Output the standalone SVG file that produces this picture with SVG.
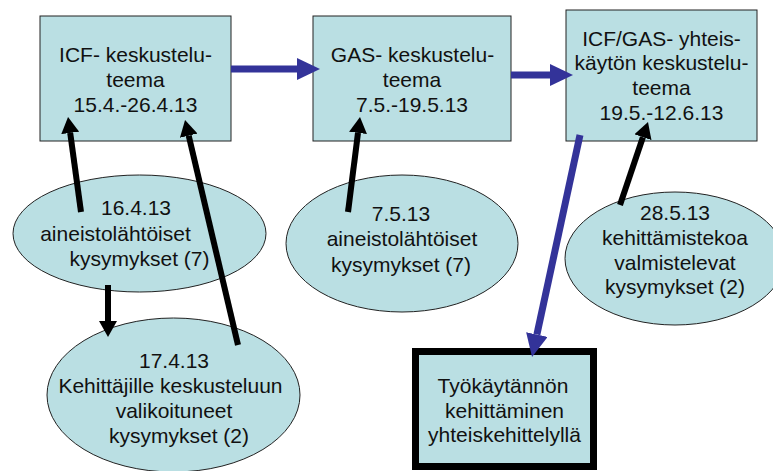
<svg xmlns="http://www.w3.org/2000/svg" width="773" height="471" viewBox="0 0 773 471">
<style>
.n{fill:#badfe3;stroke:#222;stroke-width:1}
.t{font-family:"Liberation Sans",Arial,sans-serif;font-size:21px;fill:#111;text-anchor:middle}
.bl{stroke:#000;stroke-width:6;fill:none}
.bu{stroke:#333399;stroke-width:7;fill:none}
</style>
<defs>
<marker id="bh" markerUnits="userSpaceOnUse" markerWidth="17" markerHeight="18" refX="0" refY="9" orient="auto"><path d="M0,0 L16,9 L0,18 z" fill="#000"/></marker>
<marker id="uh" markerUnits="userSpaceOnUse" markerWidth="24" markerHeight="22" refX="0" refY="11" orient="auto"><path d="M0,0 L23,11 L0,22 z" fill="#333399"/></marker>
</defs>
<rect width="773" height="471" fill="#fff"/>
<g id="box1"><rect class="n" x="40" y="16" width="191" height="125"/>
<text class="t" x="135.5" y="62">ICF- keskustelu-</text><text class="t" x="135.5" y="87">teema</text><text class="t" x="135.5" y="111.5">15.4.-26.4.13</text></g>
<g id="box2"><rect class="n" x="313" y="16" width="198" height="125"/>
<text class="t" x="412.5" y="62">GAS- keskustelu-</text><text class="t" x="412" y="87">teema</text><text class="t" x="412" y="111.5">7.5.-19.5.13</text></g>
<g id="box3"><rect class="n" x="566" y="10" width="191" height="131"/>
<text class="t" x="661.5" y="46">ICF/GAS- yhteis-</text><text class="t" x="661.5" y="70">käytön keskustelu-</text><text class="t" x="661.5" y="95">teema</text><text class="t" x="661.5" y="120">19.5.-12.6.13</text></g>
<g id="ell1"><ellipse class="n" cx="139.5" cy="233.5" rx="126.5" ry="58.5"/>
<text class="t" x="136" y="215">16.4.13</text><text class="t" x="115.5" y="241">aineistolähtöiset</text><text class="t" x="139.5" y="266">kysymykset (7)</text></g>
<g id="ell2"><ellipse class="n" cx="173.5" cy="395" rx="126.5" ry="77"/>
<text class="t" x="174" y="368">17.4.13</text><text class="t" x="170.5" y="393">Kehittäjille keskusteluun</text><text class="t" x="174" y="418">valikoituneet</text><text class="t" x="179" y="443">kysymykset (2)</text></g>
<g id="ell3"><ellipse class="n" cx="402" cy="243.5" rx="116" ry="68.5"/>
<text class="t" x="401" y="221">7.5.13</text><text class="t" x="402" y="246">aineistolähtöiset</text><text class="t" x="401" y="272">kysymykset (7)</text></g>
<g id="ell4"><ellipse class="n" cx="675" cy="258.5" rx="110" ry="66.5"/>
<text class="t" x="675" y="220">28.5.13</text><text class="t" x="675" y="245">kehittämistekoa</text><text class="t" x="675" y="270">valmistelevat</text><text class="t" x="675" y="294">kysymykset (2)</text></g>
<g id="box5"><rect x="415.5" y="351.5" width="178" height="115" fill="#badfe3" stroke="#000" stroke-width="7"/>
<text class="t" x="503" y="393">Työkäytännön</text><text class="t" x="504.5" y="418">kehittäminen</text><text class="t" x="504.5" y="442">yhteiskehittelyllä</text></g>
<g id="connectors">
<line class="bu" x1="231" y1="69" x2="297" y2="69" marker-end="url(#uh)"/>
<line class="bu" x1="511" y1="75" x2="550" y2="75" marker-end="url(#uh)"/>
<line class="bu" x1="580" y1="135" x2="536.9" y2="334.5" marker-end="url(#uh)"/>
<line class="bl" x1="81" y1="212" x2="70.2" y2="132.9" marker-end="url(#bh)"/>
<line class="bl" x1="238" y1="345" x2="188.7" y2="135.6" marker-end="url(#bh)"/>
<line class="bl" x1="108" y1="285" x2="108" y2="321" marker-end="url(#bh)"/>
<line class="bl" x1="348" y1="212" x2="358" y2="132.9" marker-end="url(#bh)"/>
<line class="bl" x1="620" y1="205" x2="642.9" y2="137.2" marker-end="url(#bh)"/>
</g>
</svg>
